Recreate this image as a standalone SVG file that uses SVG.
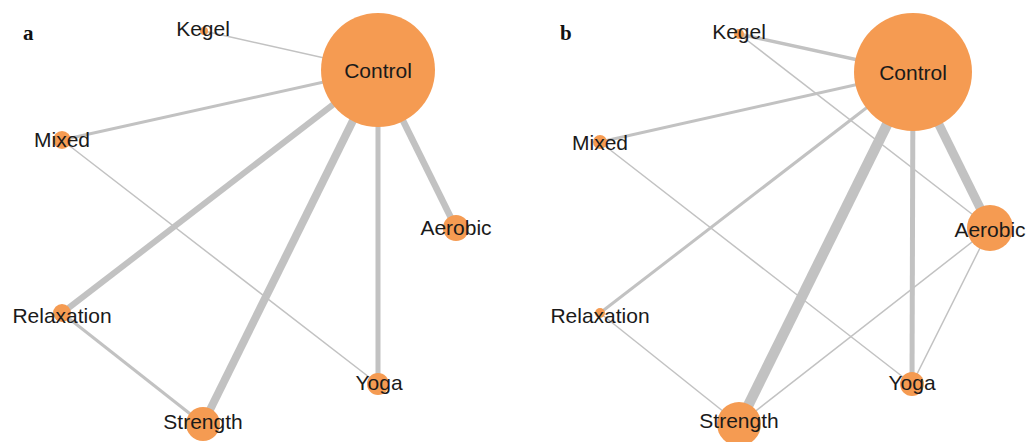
<svg xmlns="http://www.w3.org/2000/svg" width="1027" height="442" viewBox="0 0 1027 442">
<style>
.e{stroke:#c2c2c2;fill:none;stroke-linecap:butt}
.n{fill:#f59b52}
.t{font-family:"Liberation Sans",Arial,sans-serif;font-size:21px;fill:#1a1a1a;text-anchor:middle}
.p{font-family:"Liberation Serif","Times New Roman",serif;font-size:21px;font-weight:bold;fill:#111}
</style>
<rect width="1027" height="442" fill="#fff"/>
<text class="p" x="23" y="40">a</text>
<text class="p" x="560" y="40">b</text>
<g id="connectors">
  <!-- panel a -->
  <line class="e" x1="204" y1="31" x2="378" y2="70" stroke-width="1.5"/>
  <line class="e" x1="62" y1="140" x2="378" y2="70" stroke-width="3"/>
  <line class="e" x1="62" y1="140" x2="378" y2="384" stroke-width="1.5"/>
  <line class="e" x1="62" y1="313" x2="378" y2="70" stroke-width="6"/>
  <line class="e" x1="62" y1="313" x2="203" y2="424" stroke-width="3"/>
  <line class="e" x1="203" y1="424" x2="378" y2="70" stroke-width="8"/>
  <line class="e" x1="378" y1="384" x2="378" y2="70" stroke-width="5"/>
  <line class="e" x1="456" y1="228" x2="378" y2="70" stroke-width="6.5"/>
  <!-- panel b -->
  <line class="e" x1="739" y1="34" x2="913" y2="72" stroke-width="3.5"/>
  <line class="e" x1="739" y1="34" x2="990" y2="228" stroke-width="1.5"/>
  <line class="e" x1="600" y1="142" x2="913" y2="72" stroke-width="3"/>
  <line class="e" x1="600" y1="142" x2="912" y2="384" stroke-width="1.5"/>
  <line class="e" x1="600" y1="313" x2="913" y2="72" stroke-width="3"/>
  <line class="e" x1="600" y1="313" x2="739" y2="424" stroke-width="1.5"/>
  <line class="e" x1="739" y1="424" x2="913" y2="72" stroke-width="10.5"/>
  <line class="e" x1="912" y1="384" x2="913" y2="72" stroke-width="5"/>
  <line class="e" x1="990" y1="228" x2="913" y2="72" stroke-width="9"/>
  <line class="e" x1="739" y1="424" x2="990" y2="228" stroke-width="1.5"/>
  <line class="e" x1="912" y1="384" x2="990" y2="228" stroke-width="1.5"/>
</g>
<g id="a-control"><circle class="n" cx="378" cy="70" r="57"/><text class="t" x="378" y="78">Control</text></g>
<g id="a-kegel"><circle class="n" cx="204" cy="31" r="4"/><text class="t" x="203" y="36">Kegel</text></g>
<g id="a-mixed"><circle class="n" cx="62" cy="140" r="9"/><text class="t" x="62" y="147">Mixed</text></g>
<g id="a-aerobic"><circle class="n" cx="456" cy="228" r="13"/><text class="t" x="456" y="235">Aerobic</text></g>
<g id="a-relaxation"><circle class="n" cx="62" cy="313" r="9"/><text class="t" x="62" y="323">Relaxation</text></g>
<g id="a-yoga"><circle class="n" cx="378" cy="384" r="11"/><text class="t" x="379" y="390">Yoga</text></g>
<g id="a-strength"><circle class="n" cx="203" cy="424" r="17"/><text class="t" x="203" y="429">Strength</text></g>
<g id="b-control"><circle class="n" cx="913" cy="72" r="59"/><text class="t" x="913" y="80">Control</text></g>
<g id="b-kegel"><circle class="n" cx="739" cy="34" r="5"/><text class="t" x="739" y="39">Kegel</text></g>
<g id="b-mixed"><circle class="n" cx="600" cy="142" r="7"/><text class="t" x="600" y="150">Mixed</text></g>
<g id="b-aerobic"><circle class="n" cx="990" cy="228" r="23"/><text class="t" x="990" y="237">Aerobic</text></g>
<g id="b-relaxation"><circle class="n" cx="600" cy="313" r="5"/><text class="t" x="600" y="323">Relaxation</text></g>
<g id="b-yoga"><circle class="n" cx="912" cy="384" r="12"/><text class="t" x="912" y="390">Yoga</text></g>
<g id="b-strength"><circle class="n" cx="739" cy="424" r="22"/><text class="t" x="739" y="428">Strength</text></g>
</svg>
